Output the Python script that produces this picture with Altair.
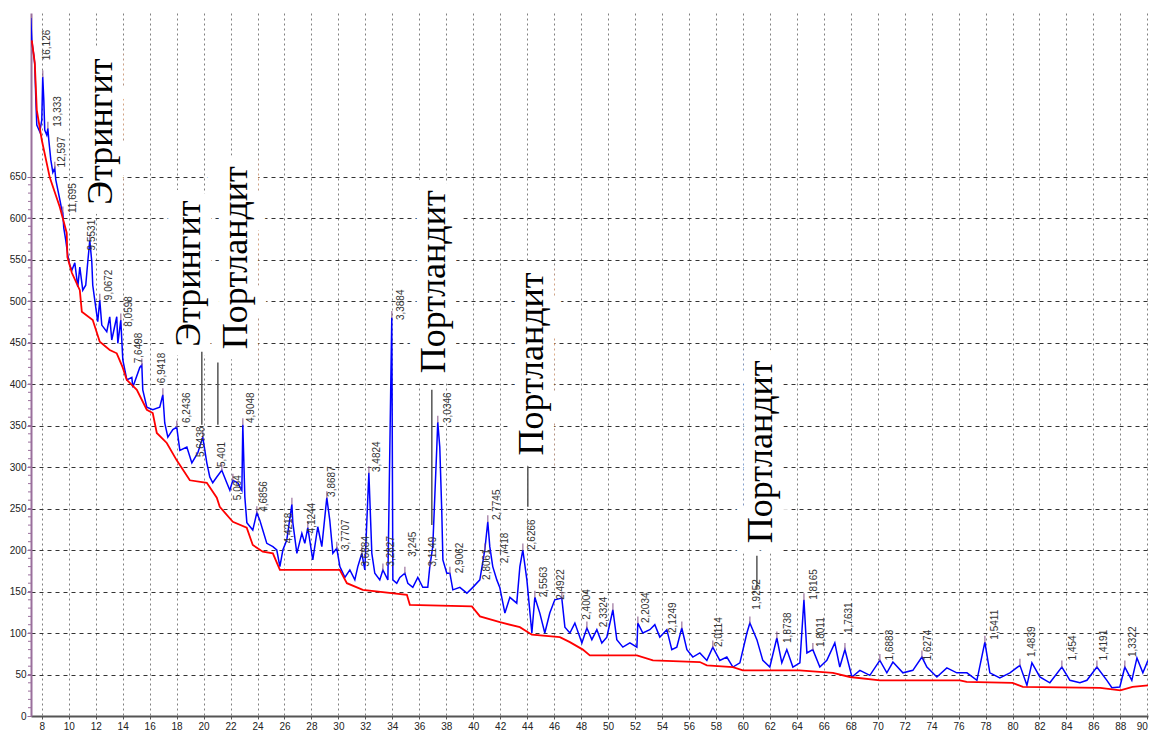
import altair as alt
import pandas as pd

# Diffraction pattern: 2-theta (deg) and intensity (counts)
two_theta = [
    7.18, 7.26, 7.33, 7.41, 7.48, 7.56, 7.63, 7.85, 8.00, 8.07, 8.15, 8.22, 8.37, 8.45, 8.52,
    8.67, 8.82, 8.96, 9.04, 9.19, 9.34, 9.48, 9.56, 9.63, 9.78, 9.93, 10.08, 10.23, 10.45,
    10.67, 10.82, 11.04, 11.26, 11.41, 11.56, 11.71, 11.78, 11.93, 12.15, 12.30, 12.45, 12.82,
    13.04, 13.19, 13.56, 13.64, 13.86, 14.01, 14.31, 14.68, 14.75, 15.27, 15.42, 15.49, 15.79,
    16.23, 16.75, 16.98, 17.12, 17.35, 17.72, 18.01, 18.24, 18.76, 19.13, 19.57, 19.94, 20.24,
    20.46, 20.68, 20.98, 21.35, 21.72, 21.95, 22.17, 22.54, 22.84, 22.91, 23.06, 23.21, 23.65,
    23.95, 24.17, 24.39, 24.69, 25.14, 25.43, 25.66, 25.88, 26.17, 26.55, 26.62, 26.92, 27.29,
    27.51, 27.73, 28.10, 28.47, 28.77, 29.14, 29.36, 29.59, 29.88, 30.11, 30.48, 30.85, 31.22,
    31.44, 31.74, 31.96, 32.26, 32.48, 32.70, 33.07, 33.30, 33.67, 33.96, 34.04, 34.33, 34.56,
    34.93, 35.15, 35.52, 35.89, 36.26, 36.63, 36.78, 37.00, 37.30, 37.37, 37.52, 37.67, 37.75,
    38.04, 38.27, 38.49, 39.01, 39.53, 39.97, 40.49, 40.86, 41.08, 41.23, 41.45, 41.75, 41.97,
    42.35, 42.72, 43.23, 43.46, 43.68, 43.98, 44.35, 44.57, 44.94, 45.31, 45.68, 46.05, 46.57,
    46.80, 47.17, 47.54, 48.06, 48.43, 48.80, 49.17, 49.54, 49.91, 50.36, 50.65, 51.10, 51.62,
    52.14, 52.21, 52.58, 53.10, 53.47, 53.84, 54.36, 54.73, 55.10, 55.47, 55.85, 56.29, 56.81,
    57.33, 57.77, 58.29, 58.81, 59.26, 59.78, 60.30, 60.52, 61.04, 61.48, 62.00, 62.52, 62.89,
    63.26, 63.71, 64.23, 64.53, 64.75, 65.19, 65.71, 66.23, 66.82, 67.19, 67.57, 68.09, 68.68,
    69.42, 70.16, 70.68, 71.13, 71.87, 72.61, 73.28, 73.65, 74.39, 75.13, 75.87, 76.62, 77.36,
    77.95, 78.32, 79.06, 79.81, 80.55, 81.07, 81.44, 82.03, 82.77, 83.66, 84.26, 85.00, 85.52,
    86.26, 87.00, 87.37, 87.96, 88.33, 88.85, 89.23, 89.67, 90.05,
]
intensity = [
    841, 814, 805, 796, 785, 742, 712, 704, 718, 770, 742, 706, 700, 708, 694,
    670, 655, 660, 646, 634, 622, 610, 606, 588, 573, 555, 543, 537, 546,
    517, 541, 513, 519, 547, 573, 547, 519, 501, 475, 501, 471, 463,
    481, 453, 481, 449, 477, 429, 405, 408, 396, 420, 423, 393, 372,
    369, 372, 387, 353, 336, 345, 348, 320, 324, 305, 317, 336, 305,
    288, 281, 288, 296, 281, 272, 284, 281, 272, 351, 264, 233, 224,
    245, 236, 224, 208, 204, 200, 180, 200, 212, 255, 233, 196, 220,
    208, 227, 188, 228, 204, 263, 236, 196, 202, 180, 167, 176, 164,
    180, 196, 176, 293, 196, 172, 164, 176, 164, 480, 164, 160, 167,
    172, 160, 155, 167, 155, 155, 180, 204, 324, 354, 324, 245, 188,
    172, 172, 152, 155, 148, 155, 164, 200, 234, 204, 180, 164, 155,
    124, 143, 136, 180, 200, 164, 100, 143, 124, 100, 124, 140, 142,
    107, 100, 112, 88, 106, 92, 104, 88, 95, 128, 92, 83, 88,
    83, 112, 100, 104, 110, 95, 104, 80, 83, 106, 80, 71, 76,
    67, 83, 67, 71, 59, 64, 100, 112, 92, 67, 59, 94, 64,
    80, 59, 64, 140, 76, 80, 59, 67, 88, 59, 80, 47, 55,
    49, 67, 52, 65, 52, 55, 71, 59, 47, 58, 52, 52, 43,
    89, 52, 46, 52, 61, 37, 64, 47, 40, 59, 43, 40, 43,
    59, 43, 34, 35, 59, 43, 70, 52, 67,
]

# Fitted background
bg_theta = [
    7.26, 7.48, 7.63, 8.00, 8.59, 9.34, 9.85, 9.90, 10.23, 10.82, 10.97, 11.78, 12.30, 13.04,
    13.56, 14.00, 14.30, 15.05, 15.79, 16.23, 16.53, 17.27, 18.01, 18.98, 20.24, 20.98, 21.20,
    22.17, 23.20, 23.65, 24.39, 25.14, 25.66, 30.10, 30.63, 31.81, 35.08, 35.30, 39.90, 40.50,
    41.98, 43.46, 44.35, 46.43, 47.17, 48.13, 48.65, 52.14, 53.33, 56.81, 57.33, 59.26, 60.00,
    64.20, 66.68, 67.94, 70.17, 76.10, 76.60, 80.00, 80.77, 86.50, 88.00, 88.90, 90.05,
]
bg_int = [
    814, 787, 730, 694, 649, 613, 582, 553, 534, 513, 487, 477, 451, 441,
    437, 420, 405, 393, 369, 365, 341, 329, 308, 284, 281, 263, 252,
    234, 227, 206, 198, 196, 176, 176, 160, 152, 146, 134, 132, 120,
    113, 107, 98, 95, 89, 80, 73, 73, 67, 65, 61, 59, 55,
    55, 52, 47, 43, 43, 41, 40, 35, 34, 31, 35, 37,
]

# Interplanar spacings (Angstrom) written above the peaks
d_text = [
    "16,126", "13,333", "12,597", "11,695", "9,5531", "9,0672", "8,0598", "7,6498",
    "6,9418", "6,2436", "5,6438", "5,401", "5,064", "4,9048", "4,6856", "4,4218",
    "4,1244", "3,8687", "3,7707", "3,6884", "3,4824", "3,3884", "3,2827", "3,245",
    "3,1149", "3,0346", "2,9062", "2,8061", "2,7745", "2,7418", "2,6266", "2,5563",
    "2,4922", "2,4004", "2,3324", "2,2034", "2,1249", "2,0114", "1,9252", "1,8738",
    "1,8165", "1,8011", "1,7631", "1,6883", "1,6274", "1,5411", "1,4839", "1,454",
    "1,4191", "1,3322",
]
d_theta = [
    8.37, 9.19, 9.48, 10.30, 11.71, 12.97, 14.45, 15.20,
    16.90, 18.76, 19.80, 21.35, 22.54, 23.50, 24.47, 26.32,
    28.03, 29.51, 30.55, 32.04, 32.85, 34.63, 33.89, 35.52,
    37.00, 38.12, 39.00, 41.00, 41.75, 42.35, 44.35, 45.24,
    46.50, 48.43, 49.69, 52.81, 54.80, 58.22, 61.04, 63.34,
    65.27, 65.79, 67.87, 70.91, 73.73, 78.70, 81.44, 84.48,
    86.78, 88.93,
]
d_level = [
    790, 710, 661, 606, 561, 501, 469, 425,
    401, 353, 312, 300, 260, 353, 246, 208,
    220, 264, 200, 180, 294, 477, 180, 192,
    180, 353, 172, 164, 236, 184, 200, 143,
    140, 116, 107, 112, 100, 83, 128, 88,
    140, 83, 100, 67, 67, 92, 71, 67,
    67, 71,
]

# Apex of each marked reflection
peak_theta = [
    8.07, 8.45, 8.96, 9.56, 11.56, 12.30, 13.86, 15.42, 16.98, 18.01, 19.94, 21.35, 22.17,
    22.91, 23.95, 26.55, 27.73, 29.14, 29.88, 31.74, 32.26, 33.96, 33.30, 34.93, 36.78,
    37.37, 38.27, 40.86, 41.08, 43.68, 44.57, 46.57, 48.43, 50.36, 52.21, 55.47, 57.77,
    60.52, 62.52, 64.53, 65.19, 67.57, 70.16, 73.28, 77.95, 80.55, 83.66, 86.26, 88.33,
]
peak_level = [
    770, 708, 660, 606, 573, 501, 477, 423, 387, 348, 336, 296, 284,
    351, 245, 255, 227, 263, 202, 196, 293, 480, 176, 172, 180,
    354, 172, 200, 234, 200, 143, 142, 106, 128, 112, 106, 83,
    112, 94, 140, 80, 80, 67, 71, 89, 61, 59, 59, 59,
]

# Phase names
phase_text = ["Этрингит", "Этрингит", "Портландит", "Портландит", "Портландит", "Портландит"]
phase_theta = [13.19, 19.72, 23.20, 37.90, 45.17, 62.15]
phase_level = [616, 445, 442, 413, 314, 208]

# Leader lines from the phase names down to their reflections
lead_theta = [19.87, 21.06, 36.93, 44.05, 61.04]
lead_top = [439, 426, 393, 301, 193]
lead_bottom = [351, 351, 230, 252, 152]

x_ticks = list(range(8, 91, 2))
y_ticks = list(range(0, 651, 50))
y_minor = list(range(10, 650, 10))

pattern = pd.DataFrame({"tt": two_theta, "i": intensity})
background = pd.DataFrame({"tt": bg_theta, "i": bg_int})
dlabels = pd.DataFrame({"tt": d_theta, "i": d_level, "txt": d_text})
peaks = pd.DataFrame({"tt": peak_theta, "i": peak_level})
phases = pd.DataFrame({"tt": phase_theta, "i": phase_level, "txt": phase_text})
leaders = pd.DataFrame({"tt": lead_theta, "i": lead_top, "i2": lead_bottom})
minor = pd.DataFrame({"i": y_minor})

x_scale = alt.Scale(domain=[7.2, 90.05], nice=False, zero=False)
y_scale = alt.Scale(domain=[0, 847], nice=False, zero=True)

x_axis = alt.Axis(
    values=x_ticks, title=None, grid=True, gridColor="#808080", gridDash=[2, 3],
    gridWidth=1, domainColor="#555555", domainWidth=2, tickSize=3, tickColor="#555555",
    labelFont="Liberation Sans", labelFontSize=10, labelColor="#222222", labelPadding=2,
)
y_axis = alt.Axis(
    values=y_ticks, title=None, grid=True, gridColor="#333333", gridDash=[4, 4],
    gridWidth=1.2, domainColor="#9a6f9c", domainWidth=2, tickSize=4, tickColor="#9a6f9c",
    labelFont="Liberation Sans", labelFontSize=10, labelColor="#222222", labelPadding=1,
)

X = alt.X("tt:Q", scale=x_scale, axis=x_axis)
Y = alt.Y("i:Q", scale=y_scale, axis=y_axis)

# white backing behind the phase names, hiding the grid under them
halo = alt.Chart(phases).mark_text(
    angle=270, align="left", baseline="alphabetic", font="Liberation Serif", fontSize=36,
    color="white", stroke="white", strokeWidth=22, strokeJoin="miter",
).encode(x=X, y=Y, text="txt:N")

line = alt.Chart(pattern).mark_line(color="#0000ff", strokeWidth=1.5, clip=True).encode(
    x=X, y=Y, order="tt:Q"
)
bg = alt.Chart(background).mark_line(color="#ff0000", strokeWidth=1.8, clip=True).encode(
    x=X, y=Y, order="tt:Q"
)
apex = alt.Chart(peaks).mark_tick(
    orient="vertical", size=7, thickness=1.5, color="#8b5e8f", yOffset=-3
).encode(x=X, y=Y)
ticks = alt.Chart(minor).mark_rule(color="#9a6f9c", strokeWidth=1).encode(
    y=Y, x=alt.value(-3), x2=alt.value(0)
)
dtext = alt.Chart(dlabels).mark_text(
    angle=270, align="left", baseline="middle", font="Liberation Sans", fontSize=10,
    color="#333333",
).encode(x=X, y=Y, text="txt:N")
ptext = alt.Chart(phases).mark_text(
    angle=270, align="left", baseline="alphabetic", font="Liberation Serif", fontSize=36,
    color="#000000",
).encode(x=X, y=Y, text="txt:N")
lead = alt.Chart(leaders).mark_rule(color="#555555", strokeWidth=1.5).encode(
    x=X, y=Y, y2="i2:Q"
)

chart = alt.layer(halo, line, bg, apex, ticks, lead, dtext, ptext).properties(
    width=1117, height=703,
    padding={"left": 31, "top": 13, "right": 3, "bottom": 17},
    autosize="none", background="white",
).configure_view(stroke=None)

chart.save("out.html", embed_options={"renderer": "svg", "actions": False})
